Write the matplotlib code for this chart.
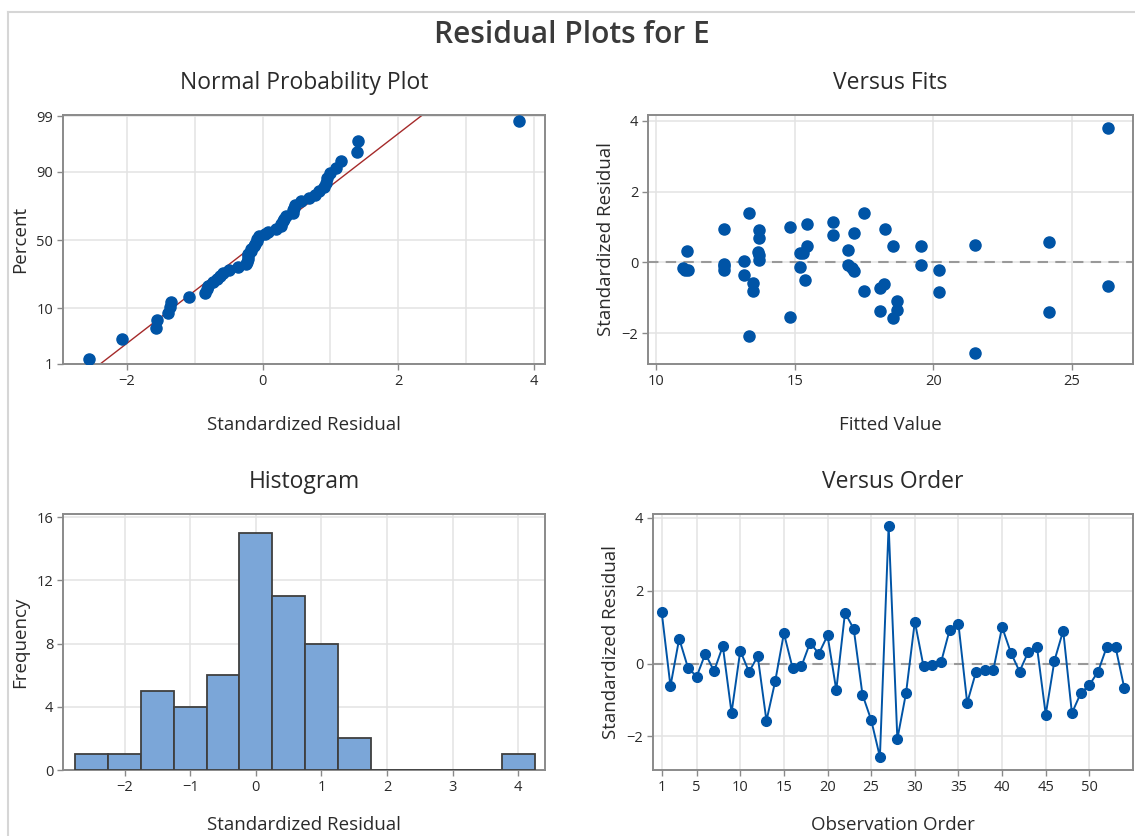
# RESIDUAL PLOTS FOR E  (Minitab style four-in-one)

from statistics import NormalDist
import numpy as np
import matplotlib
matplotlib.use('Agg')
import matplotlib.pyplot as plt
from matplotlib.lines import Line2D

plt.rcParams['font.family'] = ['Open Sans', 'DejaVu Sans']

# DATA
# standardized residuals in observation order
obs_order = list(range(1, 55))
residuals = [1.40, -0.62, 0.68, -0.11, -0.36, 0.27, -0.21, 0.48, -1.35, 0.35,
             -0.23, 0.20, -1.57, -0.49, 0.83, -0.13, -0.08, 0.57, 0.27, 0.77,
             -0.73, 1.39, 0.95, -0.85, -1.55, -2.56, 3.78, -2.07, -0.80, 1.15,
             -0.08, -0.05, 0.03, 0.93, 1.08, -1.08, -0.24, -0.17, -0.17, 1.00,
             0.30, -0.22, 0.32, 0.45, -1.40, 0.08, 0.90, -1.36, -0.82, -0.59,
             -0.22, 0.46, 0.45, -0.67]
fitted = [13.36, 18.20, 13.70, 12.45, 13.18, 15.30, 20.19, 21.49, 18.69, 16.90,
          12.45, 13.70, 18.55, 15.36, 17.12, 15.20, 16.90, 24.18, 15.18, 16.38,
          18.08, 17.50, 12.45, 20.19, 14.81, 21.49, 26.29, 13.36, 17.50, 16.38,
          19.55, 12.45, 13.18, 18.24, 15.42, 18.69, 17.14, 10.97, 17.05, 14.81,
          13.68, 11.05, 11.09, 18.55, 24.18, 13.70, 13.70, 18.08, 13.48, 13.48,
          11.15, 15.42, 19.55, 26.29]

pct_ticks = [1, 10, 50, 90, 99]
hist_edges = np.arange(-2.75, 4.3, 0.5)

# COLOURS
blue = '#0054A6'
bar_fill = '#7BA6D8'
grid_col = '#E3E3E3'
frame_col = '#8A8A8A'
text_col = '#2A2A2A'

fig = plt.figure(figsize=(11.35, 8.36), dpi=100)
W, H = 1135, 836


def place(l, t, r, b):
    # pixel box -> figure fraction axes
    return fig.add_axes([l / W, 1 - b / H, (r - l) / W, (b - t) / H])


def style(ax, title, xlabel, ylabel):
    for s in ax.spines.values():
        s.set_color(frame_col)
        s.set_linewidth(1.4)
    ax.tick_params(direction='out', length=4, width=1, color=frame_col,
                   labelsize=10.5, labelcolor=text_col, pad=3)
    ax.grid(True, color=grid_col, linewidth=1.1, which='both')
    ax.set_axisbelow(True)
    ax.set_title(title, fontsize=16.5, color=text_col, pad=19)
    ax.set_xlabel(xlabel, fontsize=13.5, color=text_col, labelpad=20)
    ax.set_ylabel(ylabel, fontsize=13.5, color=text_col, labelpad=5)


ax1 = place(63, 115, 545, 364)
ax2 = place(648, 115, 1133, 364)
ax3 = place(63, 514, 545, 770)
ax4 = place(653, 514, 1133, 770)

# NORMAL PROBABILITY PLOT
nd = NormalDist()
r = np.sort(np.array(residuals))
n = len(r)
probs = [(i - 0.3) / (n + 0.4) for i in range(1, n + 1)]
zq = [nd.inv_cdf(p) for p in probs]
mu, sd = r.mean(), r.std(ddof=1)
z_line = np.array([nd.inv_cdf(0.005), nd.inv_cdf(0.995)])
ax1.plot(mu + sd * z_line, z_line, color='#A52A2A', linewidth=1.0, zorder=2)
ax1.plot(r, zq, 'o', color=blue, markersize=8, zorder=3)
ax1.set_xlim(-2.94, 4.16)
ax1.set_ylim(nd.inv_cdf(0.01), 2.35)
ax1.set_xticks([-2, 0, 2, 4])
ax1.set_xticks([-1, 1, 3], minor=True)
ax1.tick_params(which='minor', length=0)
ax1.set_yticks([nd.inv_cdf(p / 100) for p in pct_ticks])
ax1.set_yticklabels([str(p) for p in pct_ticks])
style(ax1, 'Normal Probability Plot', 'Standardized Residual', 'Percent')

# VERSUS FITS
ax2.axhline(0, color='#999999', linewidth=1.5, linestyle=(0, (5, 3.5)), zorder=2)
ax2.plot(fitted, residuals, 'o', color=blue, markersize=8, zorder=3)
ax2.set_xlim(9.7, 27.2)
ax2.set_ylim(-2.87, 4.16)
ax2.set_xticks([10, 15, 20, 25])
ax2.set_yticks([-2, 0, 2, 4])
style(ax2, 'Versus Fits', 'Fitted Value', 'Standardized Residual')

# HISTOGRAM
ax3.hist(residuals, bins=hist_edges, color=bar_fill, edgecolor='#3F3F3F',
         linewidth=1.3, zorder=3)
ax3.set_xlim(-2.94, 4.41)
ax3.set_ylim(0, 16.2)
ax3.set_xticks([-2, -1, 0, 1, 2, 3, 4])
ax3.set_yticks([0, 4, 8, 12, 16])
style(ax3, 'Histogram', 'Standardized Residual', 'Frequency')
ax3.xaxis.labelpad = 15

# VERSUS ORDER
ax4.axhline(0, color='#999999', linewidth=1.5, linestyle=(0, (5, 3.5)), zorder=2)
ax4.plot(obs_order, residuals, '-o', color=blue, linewidth=1.4, markersize=7, zorder=3)
ax4.set_xlim(0, 55)
ax4.set_ylim(-2.92, 4.1)
ax4.set_xticks([1, 5, 10, 15, 20, 25, 30, 35, 40, 45, 50])
ax4.set_yticks([-2, 0, 2, 4])
style(ax4, 'Versus Order', 'Observation Order', 'Standardized Residual')
ax4.xaxis.labelpad = 15

# MAIN TITLE AND WINDOW FRAME
fig.text(572 / W, 1 - 35 / H, 'Residual Plots for E', ha='center', va='center',
         fontsize=21.5, fontweight='semibold', color='#3A3A3A')
fig.add_artist(Line2D([8 / W, 8 / W], [0, 1 - 12 / H], color='#D6D6D6', linewidth=1.5))
fig.add_artist(Line2D([8 / W, 1], [1 - 12 / H, 1 - 12 / H], color='#D6D6D6', linewidth=1.5))

fig.savefig('out.png', dpi=100, facecolor='white')
